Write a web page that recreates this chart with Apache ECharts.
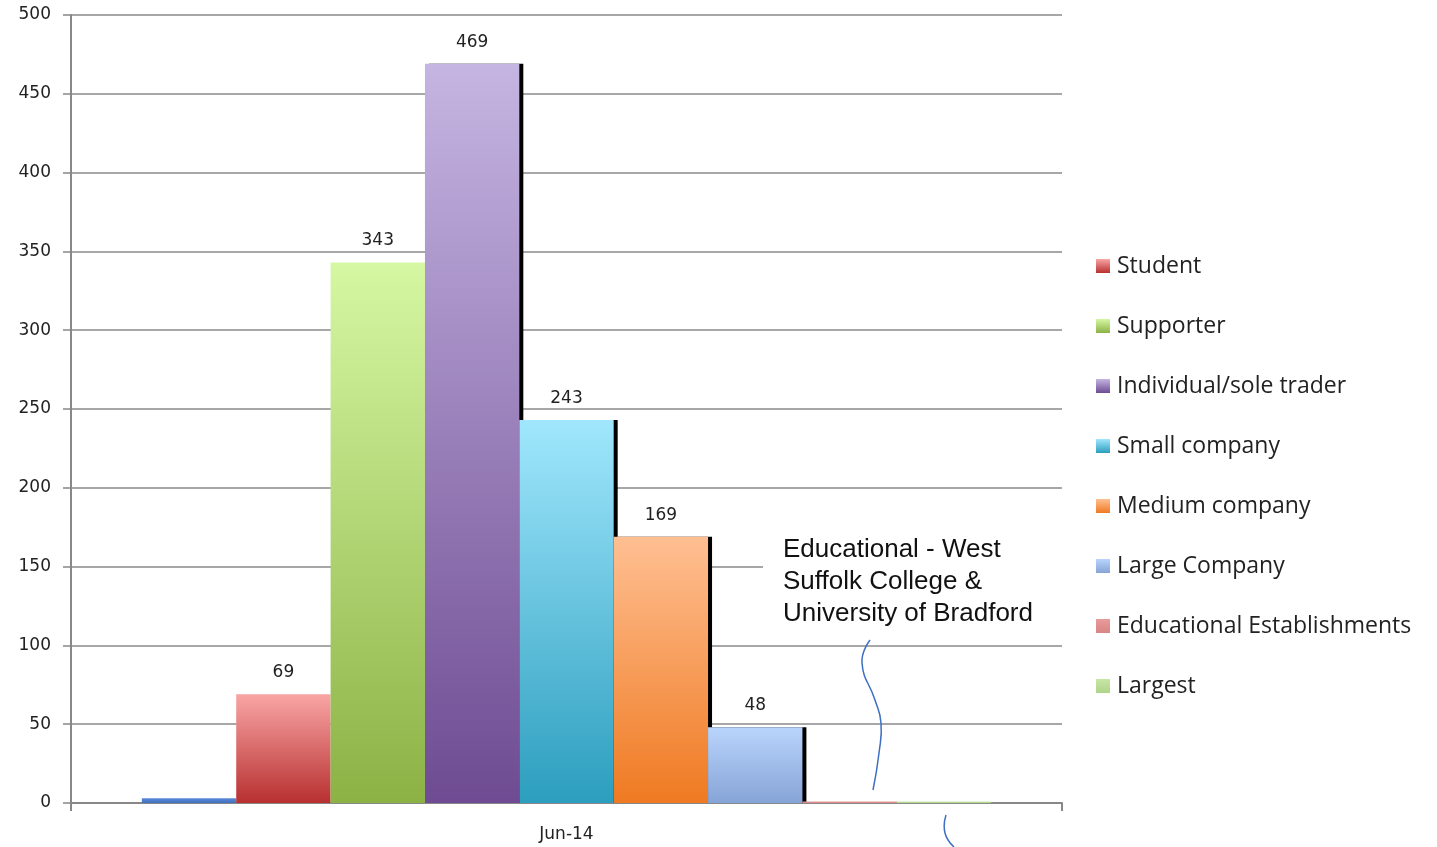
<!DOCTYPE html>
<html>
<head>
<meta charset="utf-8">
<script src="https://cdn.jsdelivr.net/npm/echarts@6/dist/echarts.min.js"></script>
<style>
  html, body { margin: 0; padding: 0; background: #fff; }
  #chart { width: 1437px; height: 847px; }
</style>
</head>
<body>
<div id="chart"></div>
<script>
const categories = ['Jun-14']
const seriesNames = ['Other', 'Student', 'Supporter', 'Individual/sole trader', 'Small company',
  'Medium company', 'Large Company', 'Educational Establishments', 'Largest']
const seriesValues = [3, 69, 343, 469, 243, 169, 48, 1, 1]
const legendNames = seriesNames.slice(1)
const yTicks = [0, 50, 100, 150, 200, 250, 300, 350, 400, 450, 500]

// top / bottom colours of each bar gradient
const colors = [
  ['#5a8ad6', '#3f6fbf'],
  ['#f9a5a5', '#b83030'],
  ['#d6f7a3', '#8cb245'],
  ['#c5b5e2', '#6e4b92'],
  ['#a0e7fd', '#2c9ebe'],
  ['#ffbf92', '#ef7a22'],
  ['#b9d4fc', '#86a4d6'],
  ['#e89a9a', '#d98585'],
  ['#c8e6a6', '#aed489'],
]
const shadowed = [false, false, false, true, true, true, true, false, false]

const chart = echarts.init(document.getElementById('chart'))

const series = seriesNames.map((name, i) => ({
  name: name,
  type: 'bar',
  barGap: 0,
  barCategoryGap: '14.3%',
  data: [seriesValues[i]],
  itemStyle: {
    color: new echarts.graphic.LinearGradient(0, 0, 0, 1, [
      { offset: 0, color: colors[i][0] },
      { offset: 1, color: colors[i][1] },
    ]),
    shadowColor: shadowed[i] ? '#000' : 'transparent',
    shadowBlur: 0,
    shadowOffsetX: shadowed[i] ? 4 : 0,
    shadowOffsetY: 0,
  },
  label: {
    show: seriesValues[i] >= 10,
    position: 'top',
    distance: 13,
    fontFamily: 'DejaVu Sans',
    fontSize: 17,
    color: '#222',
  },
}))

const option = {
  animation: false,
  grid: { left: 71, right: 375, top: 15, bottom: 44 },
  legend: {
    data: legendNames,
    orient: 'vertical',
    left: 1091,
    top: 249,
    itemWidth: 14,
    itemHeight: 14,
    itemGap: 36,
    icon: 'rect',
    textStyle: { fontFamily: 'Open Sans', fontSize: 23, lineHeight: 24, color: '#222', padding: [0, 0, 0, 2] },
  },
  xAxis: {
    type: 'category',
    data: categories,
    axisLine: { lineStyle: { color: '#888', width: 2 } },
    axisTick: { show: true, length: 8, lineStyle: { color: '#888', width: 2 } },
    axisLabel: { fontFamily: 'DejaVu Sans', fontSize: 17, color: '#222', margin: 23 },
  },
  yAxis: {
    type: 'value',
    min: yTicks[0],
    max: yTicks[yTicks.length - 1],
    interval: 50,
    axisLine: { show: true, lineStyle: { color: '#888', width: 2 } },
    axisTick: { show: true, length: 8, lineStyle: { color: '#888', width: 1.5 } },
    splitLine: { lineStyle: { color: '#8a8a8a', width: 1.5 } },
    axisLabel: { fontFamily: 'DejaVu Sans', fontSize: 17, color: '#222', margin: 20 },
  },
  series: series,
  graphic: [
    {
      type: 'rect',
      shape: { x: 763, y: 530, width: 300, height: 98 },
      style: { fill: '#fff' },
      z: 50,
    },
    {
      type: 'text',
      left: 783,
      top: 534,
      z: 51,
      style: {
        text: 'Educational - West\nSuffolk College &\nUniversity of Bradford',
        font: '26px "Liberation Sans"',
        lineHeight: 32,
        fill: '#111',
      },
    },
    // hand-drawn brace pointing at the small bars
    {
      type: 'polyline',
      z: 52,
      shape: { points: [[870, 640], [862, 663], [875, 700], [881, 723], [879, 753], [873, 790]], smooth: 0.5 },
      style: { stroke: '#3d6fc2', lineWidth: 1.5, fill: null },
    },
    {
      type: 'polyline',
      z: 52,
      shape: { points: [[946, 815], [945, 833], [954, 847]], smooth: 0.5 },
      style: { stroke: '#3d6fc2', lineWidth: 1.5, fill: null },
    },
  ],
}

chart.setOption(option)
</script>
</body>
</html>
